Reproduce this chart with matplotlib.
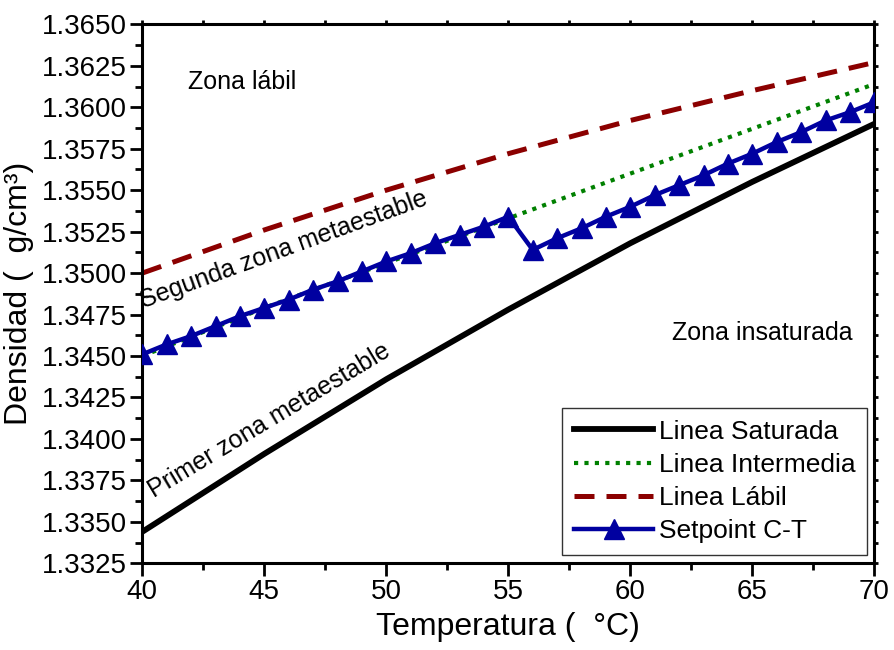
import matplotlib
matplotlib.use("Agg")
import matplotlib.pyplot as plt
from matplotlib.ticker import MultipleLocator, FormatStrFormatter

# ---- data ----
temp_5 = [40, 45, 50, 55, 60, 65, 70]
saturada = [1.3344, 1.3391, 1.3436, 1.3478, 1.3518, 1.3555, 1.3590]
intermedia = [1.3450, 1.3479, 1.3506, 1.3533, 1.3560, 1.3587, 1.3614]
labil = [1.3500, 1.3526, 1.3550, 1.3572, 1.3592, 1.3610, 1.3627]

temp_sp = list(range(40, 71))
setpoint = [1.3451, 1.3457, 1.3462, 1.3468, 1.3474, 1.3479, 1.3484, 1.3490,
            1.3495, 1.3501, 1.3507, 1.3512, 1.3518, 1.3523, 1.3528, 1.3534,
            1.3514, 1.3521, 1.3527, 1.3534, 1.3540, 1.3547, 1.3553, 1.3559,
            1.3566, 1.3572, 1.3579, 1.3585, 1.3592, 1.3597, 1.3603]

legend_labels = ["Linea Saturada", "Linea Intermedia", "Linea Lábil", "Setpoint C-T"]
x_label = "Temperatura (  °C)"
y_label = "Densidad (  g/cm³)"

plt.rcParams['font.family'] = ['Liberation Sans', 'DejaVu Sans']

fig = plt.figure(figsize=(8.94, 6.5), dpi=100)
ax = fig.add_axes([0.1592, 0.1334, 0.8188, 0.8292])

ax.plot(temp_5, saturada, color='black', lw=4.2, label=legend_labels[0], zorder=3)
ax.plot(temp_5, intermedia, color='#008000', lw=3.0, linestyle=(0, (1.0, 1.5)),
        label=legend_labels[1], zorder=2)
ax.plot(temp_5, labil, color='#8B0000', lw=3.6, linestyle=(0, (4.0, 2.4)),
        label=legend_labels[2], zorder=2)
ax.plot(temp_sp, setpoint, color='#0000A0', lw=3.2, marker='^', ms=14,
        label=legend_labels[3], zorder=4)

ax.set_xlim(40, 70)
ax.set_ylim(1.3325, 1.3650)
ax.xaxis.set_major_locator(MultipleLocator(5))
ax.xaxis.set_minor_locator(MultipleLocator(2.5))
ax.yaxis.set_major_locator(MultipleLocator(0.0025))
ax.yaxis.set_minor_locator(MultipleLocator(0.00125))
ax.yaxis.set_major_formatter(FormatStrFormatter('%.4f'))

for s in ax.spines.values():
    s.set_linewidth(2.2)

ax.tick_params(axis='both', which='major', direction='out', length=9, width=2,
               labelsize=20, pad=2)
ax.tick_params(axis='both', which='minor', direction='out', length=5, width=2)
ax.tick_params(top=True, right=True, which='both')
for t in ax.xaxis.get_major_ticks() + ax.xaxis.get_minor_ticks():
    t.tick2line.set_markersize(3)
for t in ax.yaxis.get_major_ticks() + ax.yaxis.get_minor_ticks():
    t.tick2line.set_markersize(3)

ax.set_xlabel(x_label, fontsize=23, labelpad=5)
ax.set_ylabel(y_label, fontsize=23, labelpad=6)

ax.text(44.1, 1.3615, "Zona lábil", fontsize=18, ha='center', va='center')
ax.text(45.8, 1.3514, "Segunda zona metaestable", fontsize=18, ha='center',
        va='center', rotation=20)
ax.text(45.2, 1.3411, "Primer zona metaestable", fontsize=18, ha='center',
        va='center', rotation=31)
ax.text(65.4, 1.3464, "Zona insaturada", fontsize=18, ha='center', va='center')

leg = ax.legend(loc='lower right', bbox_to_anchor=(0.99, 0.015), fontsize=19,
                frameon=True, fancybox=False, edgecolor='black',
                handlelength=3.0, handletextpad=0.2, borderpad=0.45,
                labelspacing=0.35, borderaxespad=0)
leg.get_frame().set_linewidth(1.0)

fig.savefig("out.png", dpi=100)
